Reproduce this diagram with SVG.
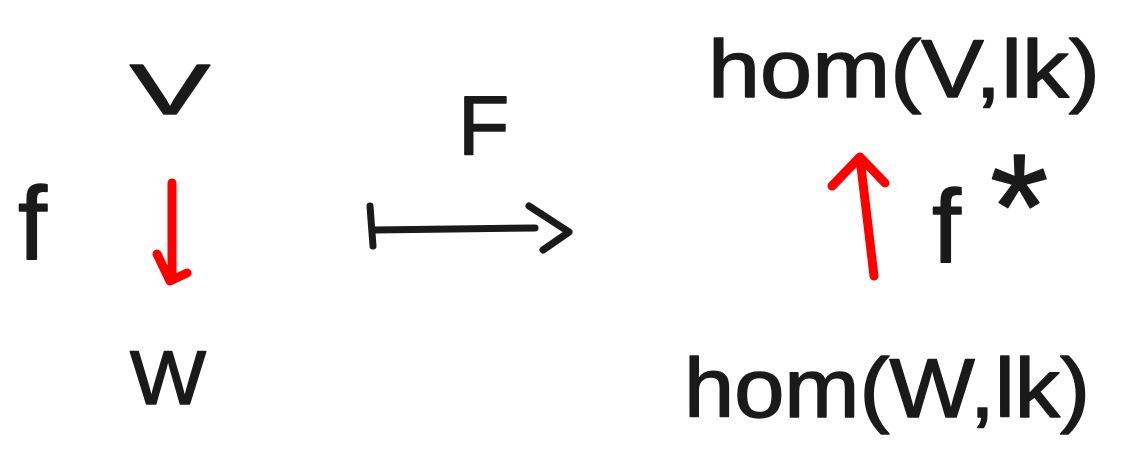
<svg xmlns="http://www.w3.org/2000/svg" width="1140" height="468" viewBox="0 0 1140 468">
<style>
text{font-family:"Liberation Sans",Arial,sans-serif;fill:#1a1a1a;stroke:#1a1a1a;stroke-width:1.5;stroke-linejoin:round}
.blk{stroke:#1a1a1a;stroke-width:7;fill:none;stroke-linecap:round;stroke-linejoin:round}
.red{stroke:#ff0000;stroke-width:9;fill:none;stroke-linecap:round;stroke-linejoin:round}
</style>
<rect width="1140" height="468" fill="#fff"/>
<g id="nodeV"><text x="130" y="114" font-size="70" textLength="80" lengthAdjust="spacingAndGlyphs">V</text></g>
<g id="nodeW"><text x="130" y="404" font-size="76" textLength="76" lengthAdjust="spacingAndGlyphs">W</text></g>
<g id="labelf"><text x="18" y="259" font-size="104">f</text></g>
<g id="labelF"><text x="458" y="154" font-size="84">F</text></g>
<g id="nodeHomV"><text x="708" y="97" font-size="82" textLength="392" lengthAdjust="spacingAndGlyphs">hom(V,lk)</text></g>
<g id="nodeHomW"><text x="684" y="417" font-size="84" textLength="406" lengthAdjust="spacingAndGlyphs">hom(W,lk)</text></g>
<g id="labelfstar"><text x="932" y="262" font-size="104">f</text><text x="990" y="259" font-size="150">*</text></g>
<g id="connectors">
<path class="red" d="M172,183 L172,280 M157,254 L170,281 L187,273"/>
<path class="red" d="M874,276 L860,158 M832,186 L860,157 L885,183"/>
<path class="blk" d="M370,206 L373,246 M374,230 L535,228 M529,206 L569,232 L543,250"/>
</g>
</svg>
